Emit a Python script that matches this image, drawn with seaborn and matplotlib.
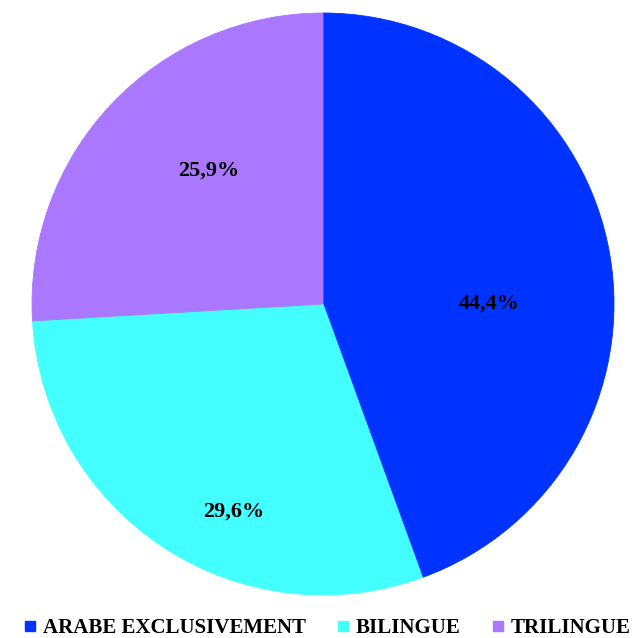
import matplotlib
matplotlib.use("Agg")
import matplotlib.pyplot as plt
from matplotlib.lines import Line2D
import seaborn as sns

# ── DATA ──────────────────────────────────────────────
categories = ['ARABE EXCLUSIVEMENT', 'BILINGUE', 'TRILINGUE']
shares     = [44.4, 29.6, 25.9]
colors     = ['#0033FF', '#44FFFF', '#AA77FF']

# label positions (pixels in the figure)
label_px = [(489, 304), (234, 512), (209, 171)]

sns.set_style("white")
plt.rcParams['font.family'] = ['Liberation Serif', 'DejaVu Serif']

W, H = 644, 638
fig = plt.figure(figsize=(W / 100, H / 100), dpi=100)
cx, cy, r = 323, 304, 291
ax = fig.add_axes([(cx - r) / W, (H - cy - r) / H, 2 * r / W, 2 * r / H])

wedges, texts, autotexts = ax.pie(
    shares,
    colors=colors,
    startangle=90,
    counterclock=False,
    autopct=lambda p: f'{p:.1f}%'.replace('.', ','),
    textprops=dict(fontsize=16, fontweight='bold', color='black'),
)
ax.set_xlim(-1, 1)
ax.set_ylim(-1, 1)
ax.set_aspect('equal')

# no white seams between slices
for w, c in zip(wedges, colors):
    w.set_edgecolor(c)
    w.set_linewidth(0.6)

# move the percentage labels to where the reference has them
for t, (px, py) in zip(autotexts, label_px):
    t.set_position(((px - cx) / r, (cy - py) / r))
    t.set_ha('center')
    t.set_va('center')

handles = [
    Line2D([], [], marker='s', linestyle='none', markersize=7.2,
           markerfacecolor=c, markeredgecolor=c)
    for c in colors
]
fig.legend(
    handles, categories,
    loc='center',
    bbox_to_anchor=(327 / W, 1 - 628 / H),
    ncol=3,
    frameon=False,
    handlelength=0.6,
    handletextpad=0.3,
    columnspacing=1.5,
    borderpad=0,
    labelcolor='black',
    prop=dict(size=15, weight='bold'),
)

fig.savefig('out.png', dpi=100)
